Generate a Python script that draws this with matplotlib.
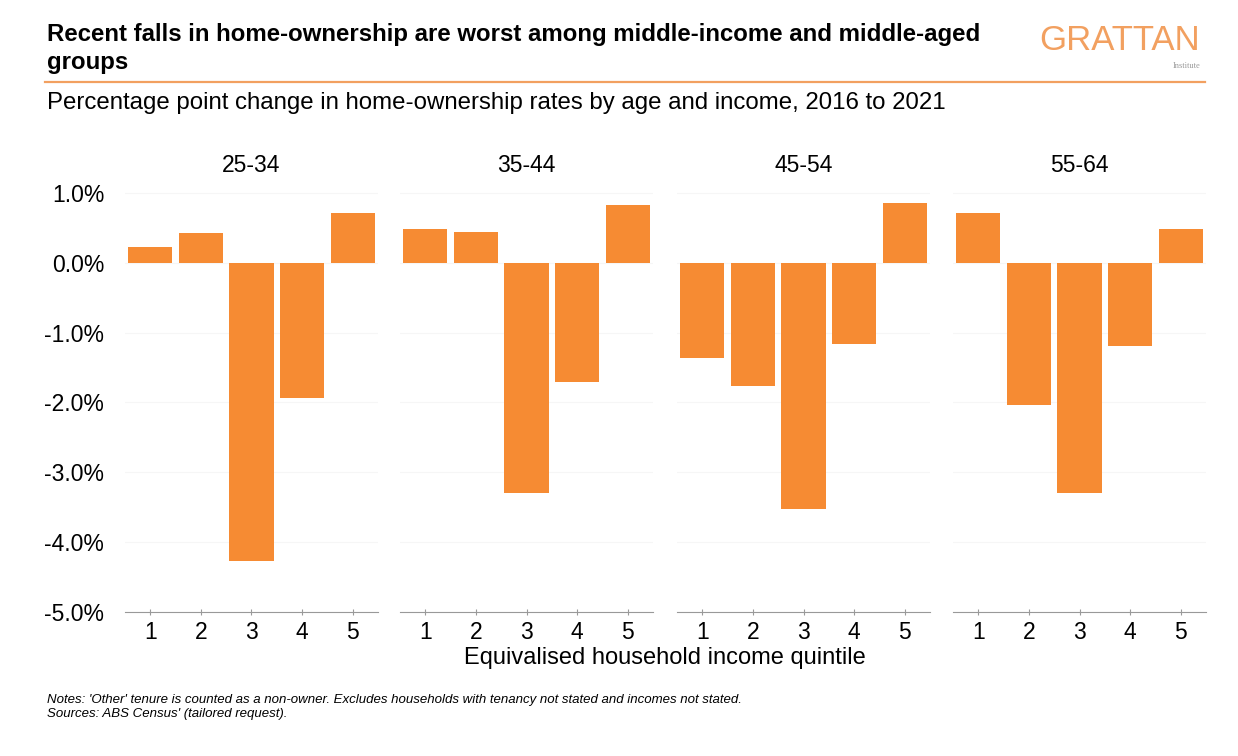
import matplotlib.pyplot as plt
from matplotlib.ticker import FuncFormatter

plt.rcParams['font.family'] = ['Liberation Sans', 'DejaVu Sans']

# Данные: изменение доли владельцев жилья (п.п.), 2016 -> 2021
age_groups = ["25-34", "35-44", "45-54", "55-64"]
quintiles = [1, 2, 3, 4, 5]
change_25_34 = [0.23, 0.43, -4.27, -1.94, 0.71]
change_35_44 = [0.49, 0.44, -3.30, -1.71, 0.83]
change_45_54 = [-1.37, -1.76, -3.53, -1.16, 0.86]
change_55_64 = [0.71, -2.03, -3.30, -1.19, 0.49]
values = [change_25_34, change_35_44, change_45_54, change_55_64]

orange = "#F68B33"
W, H = 1238, 756
fs = 16.5

fig = plt.figure(figsize=(W / 100, H / 100), dpi=100)

# заголовки
fig.text(47 / W, 1 - 35 / H, "Recent falls in home-ownership are worst among middle-income and middle-aged",
         fontsize=17.3, fontweight="bold", va="center", ha="left")
fig.text(47 / W, 1 - 62 / H, "groups", fontsize=17.3, fontweight="bold", va="center", ha="left")
fig.text(47 / W, 1 - 103 / H, "Percentage point change in home-ownership rates by age and income, 2016 to 2021",
         fontsize=17.3, va="center", ha="left")
fig.text(1200 / W, 1 - 41 / H, "GRATTAN", fontsize=25, color="#F2A060", va="center", ha="right")
fig.text(1200 / W, 1 - 66 / H, "Institute", fontsize=6, color="#999999", va="center", ha="right",
         family=["Liberation Serif"])
fig.add_artist(plt.Line2D([45 / W, 1205 / W], [1 - 82 / H, 1 - 82 / H], color="#F2A060", lw=1.6))

# панели
lefts = [125, 400, 677, 953]
ax_w = 253
top_px, bot_px = 172, 612
ymin, ymax = -5.0, 1.3

for i, (label, vals) in enumerate(zip(age_groups, values)):
    ax = fig.add_axes([lefts[i] / W, 1 - bot_px / H, ax_w / W, (bot_px - top_px) / H])
    ax.bar(quintiles, vals, width=0.87, color=orange)
    ax.set_xlim(0.5, 5.5)
    ax.set_ylim(ymin, ymax)
    ax.set_yticks([1, 0, -1, -2, -3, -4, -5])
    ax.yaxis.grid(True, color="#f6f6f6", lw=0.8)
    ax.set_axisbelow(True)
    for s in ["top", "right", "left"]:
        ax.spines[s].set_visible(False)
    ax.spines["bottom"].set_color("#999999")
    ax.set_xticks(quintiles)
    ax.tick_params(axis="x", length=5, direction="inout", color="#999999", labelsize=fs, pad=4)
    ax.tick_params(axis="y", length=0, labelsize=fs, pad=15)
    ax.text(0.5, (bot_px - 165) / (bot_px - top_px), label, transform=ax.transAxes,
            fontsize=fs, ha="center", va="center")
    if i == 0:
        ax.yaxis.set_major_formatter(FuncFormatter(lambda v, p: f"{v:.1f}%"))
    else:
        ax.set_yticklabels([])

fig.text(665 / W, 1 - 658 / H, "Equivalised household income quintile", fontsize=17, ha="center", va="center")

fig.text(47 / W, 1 - 700 / H,
         "Notes: 'Other' tenure is counted as a non-owner. Excludes households with tenancy not stated and incomes not stated.",
         fontsize=9.5, style="italic", va="center", ha="left")
fig.text(47 / W, 1 - 714 / H, "Sources: ABS Census' (tailored request).",
         fontsize=9.5, style="italic", va="center", ha="left")

fig.savefig("out.png", dpi=100)
